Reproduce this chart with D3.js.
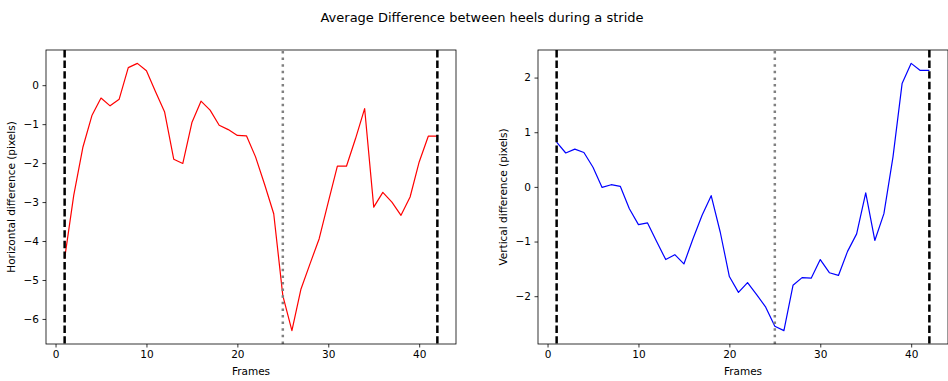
<!DOCTYPE html>
<html>
<head>
<meta charset="utf-8">
<script src="https://cdn.jsdelivr.net/npm/d3@7"></script>
<style>
  body { margin: 0; background: #fff; }
  svg { font-family: "DejaVu Sans", sans-serif; }
</style>
</head>
<body>
<div id="chart"></div>
<script>
var frames = [1, 2, 3, 4, 5, 6, 7, 8, 9, 10, 11, 12, 13, 14, 15, 16, 17, 18, 19, 20, 21,
              22, 23, 24, 25, 26, 27, 28, 29, 30, 31, 32, 33, 34, 35, 36, 37, 38, 39, 40, 41, 42];

var horizontalDiff = [-4.45, -2.83, -1.60, -0.78, -0.33, -0.53, -0.36, 0.45, 0.56, 0.37, -0.17,
                      -0.69, -1.90, -2.01, -0.96, -0.41, -0.64, -1.03, -1.14, -1.29, -1.30,
                      -1.84, -2.55, -3.30, -5.40, -6.30, -5.23, -4.58, -3.94, -3.00, -2.08,
                      -2.08, -1.37, -0.60, -3.13, -2.75, -3.00, -3.34, -2.87, -1.97, -1.31, -1.31];

var verticalDiff = [0.82, 0.62, 0.69, 0.63, 0.36, -0.01, 0.04, 0.01, -0.40, -0.69, -0.66,
                    -1.00, -1.33, -1.24, -1.41, -0.95, -0.52, -0.16, -0.83, -1.64, -1.93,
                    -1.75, -1.97, -2.20, -2.55, -2.63, -1.80, -1.66, -1.67, -1.33, -1.57,
                    -1.62, -1.18, -0.86, -0.11, -0.98, -0.49, 0.55, 1.89, 2.26, 2.13, 2.13];

var strideBounds = [1, 42];   // heel strikes, dashed black
var midFrame = [25];          // dotted grey

var xTicks = [0, 10, 20, 30, 40];
var hTicks = [0, -1, -2, -3, -4, -5, -6];
var vTicks = [2, 1, 0, -1, -2];

var width = 948, height = 381,
    plotTop = 50, plotBottom = 344;

var svg = d3.select("#chart")
            .append("svg")
              .attr("width", width)
              .attr("height", height);

svg.append("text")
    .attr("x", 482)
    .attr("y", 22)
    .attr("text-anchor", "middle")
    .style("font-size", "13px")
    .style("fill", "#000")
    .text("Average Difference between heels during a stride");

// matplotlib style 5% padding
function pad(ext) {
    var m = (ext[1] - ext[0]) * 0.05;
    return [ext[0] - m, ext[1] + m];
}

function panel(left, right, values, color, yTicks, label, labelX) {
    var x = d3.scaleLinear()
              .domain(pad(d3.extent(frames)))
              .range([left, right]),
        y = d3.scaleLinear()
              .domain(pad(d3.extent(values)))
              .range([plotBottom, plotTop]);

    var clipId = "clip" + left;
    svg.append("clipPath").attr("id", clipId)
        .append("rect")
          .attr("x", left).attr("y", plotTop)
          .attr("width", right - left).attr("height", plotBottom - plotTop);

    var g = svg.append("g").attr("clip-path", "url(#" + clipId + ")");

    var line = d3.line()
        .x(function(d, i) { return x(frames[i]); })
        .y(function(d) { return y(d); });

    g.append("path")
        .datum(values)
        .attr("d", line)
        .style("fill", "none")
        .style("stroke", color)
        .style("stroke-width", 1.2)
        .style("stroke-linejoin", "round");

    g.selectAll(".bound")
        .data(strideBounds)
        .enter().append("line")
          .attr("x1", function(d) { return x(d); })
          .attr("x2", function(d) { return x(d); })
          .attr("y1", plotTop).attr("y2", plotBottom)
          .style("stroke", "#000")
          .style("stroke-width", 2.5)
          .style("stroke-dasharray", "7.4 3.2");

    g.selectAll(".mid")
        .data(midFrame)
        .enter().append("line")
          .attr("x1", function(d) { return x(d); })
          .attr("x2", function(d) { return x(d); })
          .attr("y1", plotTop + 1).attr("y2", plotBottom)
          .style("stroke", "#808080")
          .style("stroke-width", 2.5)
          .style("stroke-dasharray", "2.5 4.1");

    var xAxis = d3.axisBottom(x).tickValues(xTicks).tickSize(3.5).tickPadding(3.5)
                  .tickFormat(d3.format("d"));
    var yAxis = d3.axisLeft(y).tickValues(yTicks).tickSize(3.5).tickPadding(3.5)
                  .tickFormat(d3.format("d"));

    var ax = svg.append("g")
        .attr("transform", "translate(0," + plotBottom + ")")
        .call(xAxis);
    var ay = svg.append("g")
        .attr("transform", "translate(" + left + ",0)")
        .call(yAxis);

    [ax, ay].forEach(function(a) {
        a.select(".domain").remove();
        a.selectAll("line").style("stroke", "#000").style("stroke-width", 0.8);
        a.selectAll("text").style("font-size", "10.5px").style("fill", "#000")
         .style("font-family", "DejaVu Sans, sans-serif");
    });

    svg.append("rect")
        .attr("x", left).attr("y", plotTop)
        .attr("width", right - left).attr("height", plotBottom - plotTop)
        .style("fill", "none")
        .style("stroke", "#000")
        .style("stroke-width", 0.8);

    svg.append("text")
        .attr("x", (left + right) / 2)
        .attr("y", 375)
        .attr("text-anchor", "middle")
        .style("font-size", "10.5px")
        .text("Frames");

    svg.append("text")
        .attr("transform", "translate(" + labelX + "," + ((plotTop + plotBottom) / 2) + ") rotate(-90)")
        .attr("text-anchor", "middle")
        .style("font-size", "10.5px")
        .text(label);
}

panel(46, 456, horizontalDiff, "red", hTicks, "Horizontal difference (pixels)", 15);
panel(538, 948, verticalDiff, "blue", vTicks, "Vertical difference (pixels)", 507);
</script>
</body>
</html>
